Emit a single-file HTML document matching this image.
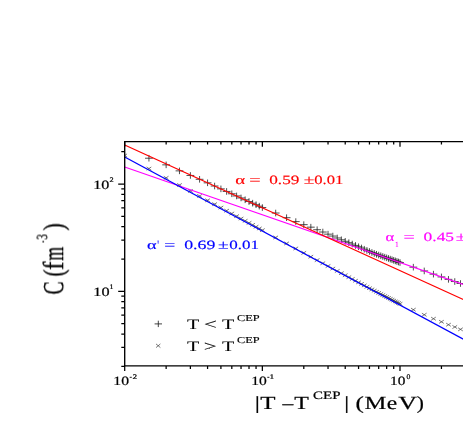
<!DOCTYPE html><html><head><meta charset="utf-8"><style>html,body{margin:0;padding:0;background:#fff;overflow:hidden}svg{display:block}</style></head><body><svg width="463" height="436" viewBox="0 0 463 436">
<rect width="463" height="436" fill="#fff"/>
<defs><clipPath id="pc"><rect x="124.7" y="141.6" width="343.3" height="224.29999999999998"/></clipPath></defs>
<g clip-path="url(#pc)" fill="none">
<path d="M145.04 158.23H152.84M148.94 154.93V161.53M162.24 164.85H170.04M166.14 161.55V168.15M175.58 170.87H183.38M179.48 167.57V174.17M186.48 175.46H194.28M190.38 172.16V178.76M195.69 179.30H203.49M199.59 176.00V182.60M203.67 182.84H211.47M207.57 179.54V186.14M210.71 186.03H218.51M214.61 182.73V189.33M217.01 188.87H224.81M220.91 185.57V192.17M222.71 191.44H230.51M226.61 188.14V194.74M227.91 193.78H235.71M231.81 190.48V197.08M232.70 195.94H240.50M236.60 192.64V199.24M237.13 197.94H244.93M241.03 194.64V201.24M241.25 199.79H249.05M245.15 196.49V203.09M245.11 201.53H252.91M249.01 198.23V204.83M248.73 203.17H256.53M252.63 199.87V206.47M252.15 204.71H259.95M256.05 201.41V208.01M255.38 206.16H263.18M259.28 202.86V209.46M258.45 207.55H266.25M262.35 204.25V210.85M271.79 213.03H279.59M275.69 209.73V216.33M282.69 217.70H290.49M286.59 214.40V221.00M291.90 221.61H299.70M295.80 218.31V224.91M299.89 224.65H307.69M303.79 221.35V227.95M306.93 227.16H314.73M310.83 223.86V230.46M313.23 229.73H321.03M317.13 226.43V233.03M318.92 232.03H326.72M322.82 228.73V235.33M324.13 234.16H331.93M328.03 230.86V237.46M328.91 236.05H336.71M332.81 232.75V239.35M333.34 237.98H341.14M337.24 234.68V241.28M337.47 239.78H345.27M341.37 236.48V243.08M341.32 241.30H349.12M345.22 238.00V244.60M344.95 242.72H352.75M348.85 239.42V246.02M348.36 244.06H356.16M352.26 240.76V247.36M351.60 245.44H359.40M355.50 242.14V248.74M354.66 246.74H362.46M358.56 243.44V250.04M357.58 247.98H365.38M361.48 244.68V251.28M360.36 249.24H368.16M364.26 245.94V252.54M363.02 250.44H370.82M366.92 247.14V253.74M365.56 251.49H373.36M369.46 248.19V254.79M368.00 252.49H375.80M371.90 249.19V255.79M370.35 253.45H378.15M374.25 250.15V256.75M372.60 254.28H380.40M376.50 250.98V257.58M374.78 255.04H382.58M378.68 251.74V258.34M376.88 255.78H384.68M380.78 252.48V259.08M378.90 256.49H386.70M382.80 253.19V259.79M380.86 257.18H388.66M384.76 253.88V260.48M382.76 257.85H390.56M386.66 254.55V261.15M384.60 258.49H392.40M388.50 255.19V261.79M386.38 259.12H394.18M390.28 255.82V262.42M388.12 259.73H395.92M392.02 256.43V263.03M389.80 260.32H397.60M393.70 257.02V263.62M391.44 260.89H399.24M395.34 257.59V264.19M393.03 261.45H400.83M396.93 258.15V264.75M394.59 262.00H402.39M398.49 258.70V265.30M396.10 262.53H403.90M400.00 259.23V265.83M409.44 267.16H417.24M413.34 263.86V270.46M420.34 270.94H428.14M424.24 267.64V274.24M429.55 274.14H437.35M433.45 270.84V277.44M437.54 276.91H445.34M441.44 273.61V280.21M444.58 279.35H452.38M448.48 276.05V282.65M450.88 281.54H458.68M454.78 278.24V284.84M456.57 283.51H464.37M460.47 280.21V286.81" stroke="#222" stroke-width="0.8"/>
<path d="M122.35 153.90L127.05 157.10M122.35 157.10L127.05 153.90M146.59 166.98L151.29 170.18M146.59 170.18L151.29 166.98M163.79 176.26L168.49 179.46M163.79 179.46L168.49 176.26M177.13 183.45L181.83 186.65M177.13 186.65L181.83 183.45M188.03 189.34L192.73 192.54M188.03 192.54L192.73 189.34M197.24 194.36L201.94 197.56M197.24 197.56L201.94 194.36M205.22 198.71L209.92 201.91M205.22 201.91L209.92 198.71M212.26 202.55L216.96 205.75M212.26 205.75L216.96 202.55M218.56 205.98L223.26 209.18M218.56 209.18L223.26 205.98M224.26 209.08L228.96 212.28M224.26 212.28L228.96 209.08M229.46 211.92L234.16 215.12M229.46 215.12L234.16 211.92M234.25 214.52L238.95 217.72M234.25 217.72L238.95 214.52M238.68 216.94L243.38 220.14M238.68 220.14L243.38 216.94M242.80 219.19L247.50 222.39M242.80 222.39L247.50 219.19M246.66 221.29L251.36 224.49M246.66 224.49L251.36 221.29M250.28 223.26L254.98 226.46M250.28 226.46L254.98 223.26M253.70 225.13L258.40 228.33M253.70 228.33L258.40 225.13M256.93 226.89L261.63 230.09M256.93 230.09L261.63 226.89M260.00 228.56L264.70 231.76M260.00 231.76L264.70 228.56M273.34 235.86L278.04 239.06M273.34 239.06L278.04 235.86M284.24 241.83L288.94 245.03M284.24 245.03L288.94 241.83M293.45 246.87L298.15 250.07M293.45 250.07L298.15 246.87M301.44 251.24L306.14 254.44M301.44 254.44L306.14 251.24M308.48 255.10L313.18 258.30M308.48 258.30L313.18 255.10M314.78 258.55L319.48 261.75M314.78 261.75L319.48 258.55M320.47 261.63L325.17 264.83M320.47 264.83L325.17 261.63M325.68 264.42L330.38 267.62M325.68 267.62L330.38 264.42M330.46 266.98L335.16 270.18M330.46 270.18L335.16 266.98M334.89 269.35L339.59 272.55M334.89 272.55L339.59 269.35M339.02 271.55L343.72 274.75M339.02 274.75L343.72 271.55M342.87 273.62L347.57 276.82M342.87 276.82L347.57 273.62M346.50 275.55L351.20 278.75M346.50 278.75L351.20 275.55M349.91 277.38L354.61 280.58M349.91 280.58L354.61 277.38M353.15 279.11L357.85 282.31M353.15 282.31L357.85 279.11M356.21 280.75L360.91 283.95M356.21 283.95L360.91 280.75M359.13 282.31L363.83 285.51M359.13 285.51L363.83 282.31M361.91 283.80L366.61 287.00M361.91 287.00L366.61 283.80M364.57 285.22L369.27 288.42M364.57 288.42L369.27 285.22M367.11 286.58L371.81 289.78M367.11 289.78L371.81 286.58M369.55 287.84L374.25 291.04M369.55 291.04L374.25 287.84M371.90 289.04L376.60 292.24M371.90 292.24L376.60 289.04M374.15 290.20L378.85 293.40M374.15 293.40L378.85 290.20M376.33 291.31L381.03 294.51M376.33 294.51L381.03 291.31M378.43 292.38L383.13 295.58M378.43 295.58L383.13 292.38M380.45 293.42L385.15 296.62M380.45 296.62L385.15 293.42M382.41 294.42L387.11 297.62M382.41 297.62L387.11 294.42M384.31 295.39L389.01 298.59M384.31 298.59L389.01 295.39M386.15 296.33L390.85 299.53M386.15 299.53L390.85 296.33M387.93 297.24L392.63 300.44M387.93 300.44L392.63 297.24M389.67 298.13L394.37 301.33M389.67 301.33L394.37 298.13M391.35 298.99L396.05 302.19M391.35 302.19L396.05 298.99M392.99 299.83L397.69 303.03M392.99 303.03L397.69 299.83M394.58 300.64L399.28 303.84M394.58 303.84L399.28 300.64M396.14 301.44L400.84 304.64M396.14 304.64L400.84 301.44M397.65 302.21L402.35 305.41M397.65 305.41L402.35 302.21M410.99 308.09L415.69 311.29M410.99 311.29L415.69 308.09M421.89 313.15L426.59 316.35M421.89 316.35L426.59 313.15M431.10 317.11L435.80 320.31M431.10 320.31L435.80 317.11M439.09 320.20L443.79 323.40M439.09 323.40L443.79 320.20M446.13 323.10L450.83 326.30M446.13 326.30L450.83 323.10M452.43 325.39L457.13 328.59M452.43 328.59L457.13 325.39M458.12 327.75L462.82 330.95M458.12 330.95L462.82 327.75" stroke="#333" stroke-width="0.65"/>
<path d="M124.7 167.00L468 286.13" stroke="#f0f" stroke-width="1.15"/>
<path d="M124.7 145.05L468 301.66" stroke="#f00" stroke-width="1.25"/>
<path d="M124.7 157.00L468 341.70" stroke="#00f" stroke-width="1.3"/>
</g>
<path d="M124.7 366.54999999999995V140.95M124.05 141.6H465M124.05 365.9H465" stroke="#000" stroke-width="1.35" fill="none"/>
<path d="M124.70 365.9v5.2M124.70 141.6v5.2M166.14 365.9v3.0M166.14 141.6v3.0M190.38 365.9v3.0M190.38 141.6v3.0M207.57 365.9v3.0M207.57 141.6v3.0M220.91 365.9v3.0M220.91 141.6v3.0M231.81 365.9v3.0M231.81 141.6v3.0M241.03 365.9v3.0M241.03 141.6v3.0M249.01 365.9v3.0M249.01 141.6v3.0M256.05 365.9v3.0M256.05 141.6v3.0M262.35 365.9v5.2M262.35 141.6v5.2M303.79 365.9v3.0M303.79 141.6v3.0M328.03 365.9v3.0M328.03 141.6v3.0M345.22 365.9v3.0M345.22 141.6v3.0M358.56 365.9v3.0M358.56 141.6v3.0M369.46 365.9v3.0M369.46 141.6v3.0M378.68 365.9v3.0M378.68 141.6v3.0M386.66 365.9v3.0M386.66 141.6v3.0M393.70 365.9v3.0M393.70 141.6v3.0M400.00 365.9v5.2M400.00 141.6v5.2M441.44 365.9v3.0M441.44 141.6v3.0M124.7 366.30h-3.4M124.7 347.40h-3.4M124.7 334.00h-3.4M124.7 323.60h-3.4M124.7 315.10h-3.4M124.7 307.92h-3.4M124.7 301.70h-3.4M124.7 296.21h-3.4M124.7 291.30h-6.5M124.7 259.00h-3.4M124.7 240.10h-3.4M124.7 226.70h-3.4M124.7 216.30h-3.4M124.7 207.80h-3.4M124.7 200.62h-3.4M124.7 194.40h-3.4M124.7 188.91h-3.4M124.7 184.00h-6.5M124.7 151.70h-3.4" stroke="#000" stroke-width="1.25" fill="none"/>
<g font-family="Liberation Serif, serif" style="opacity:0.999" text-rendering="geometricPrecision">
<text transform="translate(93.29,188.60) scale(1.269,1)" font-size="12.7" fill="#000" stroke="#000" stroke-width="0.22">10</text>
<text transform="translate(109.43,182.20) scale(1.179,1)" font-size="7.0" fill="#000" stroke="#000" stroke-width="0.22">2</text>
<text transform="translate(93.28,295.70) scale(1.278,1)" font-size="12.7" fill="#000" stroke="#000" stroke-width="0.22">10</text>
<text transform="translate(109.50,289.30) scale(1.135,1)" font-size="7.0" fill="#000" stroke="#000" stroke-width="0.22">1</text>
<text transform="translate(113.33,385.30) scale(1.233,1)" font-size="12.7" fill="#000" stroke="#000" stroke-width="0.22">10</text>
<path d="M129.7 377.3H131.8M267.3 377.3H269.4" stroke="#000" stroke-width="0.9"/>
<text transform="translate(132.58,379.20) scale(1.321,1)" font-size="7.0" fill="#000" stroke="#000" stroke-width="0.22">2</text>
<text transform="translate(251.14,385.20) scale(1.224,1)" font-size="12.7" fill="#000" stroke="#000" stroke-width="0.22">10</text>
<text transform="translate(269.48,379.20) scale(1.337,1)" font-size="7.0" fill="#000" stroke="#000" stroke-width="0.22">1</text>
<text transform="translate(390.06,385.20) scale(1.206,1)" font-size="12.7" fill="#000" stroke="#000" stroke-width="0.22">10</text>
<text transform="translate(406.41,379.20) scale(1.109,1)" font-size="7.0" fill="#000" stroke="#000" stroke-width="0.22">0</text>
<path d="M154.6 323.9H162.0M158.3 320.7V327.1" stroke="#222" stroke-width="0.85" fill="none"/>
<path d="M156.0 343.9L160.4 347.6M156.0 347.6L160.4 343.9" stroke="#333" stroke-width="0.65" fill="none"/>
<text transform="translate(187.05,329.00) scale(1.376,1)" font-size="14.6" fill="#000" stroke="#000" stroke-width="0.1">T</text>
<text transform="translate(203.84,329.00) scale(1.591,1)" font-size="14.6" fill="#000" stroke="#000" stroke-width="0.1">&lt;</text>
<text transform="translate(222.05,329.00) scale(1.376,1)" font-size="14.6" fill="#000" stroke="#000" stroke-width="0.1">T</text>
<text transform="translate(236.91,321.20) scale(1.369,1)" font-size="9.0" fill="#000" stroke="#000" stroke-width="0.15">CEP</text>
<text transform="translate(187.05,350.90) scale(1.376,1)" font-size="14.6" fill="#000" stroke="#000" stroke-width="0.1">T</text>
<text transform="translate(203.84,350.90) scale(1.591,1)" font-size="14.6" fill="#000" stroke="#000" stroke-width="0.1">&gt;</text>
<text transform="translate(222.05,350.90) scale(1.376,1)" font-size="14.6" fill="#000" stroke="#000" stroke-width="0.1">T</text>
<text transform="translate(236.91,343.10) scale(1.369,1)" font-size="9.0" fill="#000" stroke="#000" stroke-width="0.15">CEP</text>
<text transform="translate(235.19,184.20) scale(1.490,1)" font-size="12.7" fill="#f00" stroke="#f00" stroke-width="0.15">α</text>
<text transform="translate(249.19,184.20) scale(1.592,1)" font-size="12.7" fill="#f00" stroke="#f00" stroke-width="0.15">=</text>
<text transform="translate(269.25,184.20) scale(1.356,1)" font-size="12.7" fill="#f00" stroke="#f00" stroke-width="0.15">0.59</text>
<text transform="translate(303.68,184.20) scale(1.524,1)" font-size="12.7" fill="#f00" stroke="#f00" stroke-width="0.15">±</text>
<text transform="translate(314.18,184.20) scale(1.310,1)" font-size="12.7" fill="#f00" stroke="#f00" stroke-width="0.15">0.01</text>
<text transform="translate(147.11,248.90) scale(1.439,1)" font-size="12.7" fill="#00f" stroke="#00f" stroke-width="0.15">α</text>
<text transform="translate(157.20,248.90) scale(0.746,1)" font-size="12.7" fill="#00f" stroke="#00f" stroke-width="0.15">'</text>
<text transform="translate(164.32,248.90) scale(1.541,1)" font-size="12.7" fill="#00f" stroke="#00f" stroke-width="0.15">=</text>
<text transform="translate(184.13,248.90) scale(1.403,1)" font-size="12.7" fill="#00f" stroke="#00f" stroke-width="0.15">0.69</text>
<text transform="translate(217.88,248.90) scale(1.524,1)" font-size="12.7" fill="#00f" stroke="#00f" stroke-width="0.15">±</text>
<text transform="translate(229.26,248.90) scale(1.339,1)" font-size="12.7" fill="#00f" stroke="#00f" stroke-width="0.15">0.01</text>
<text transform="translate(385.57,241.20) scale(1.321,1)" font-size="12.7" fill="#f0f" stroke="#f0f" stroke-width="0.15">α</text>
<text transform="translate(395.13,246.60) scale(0.816,1)" font-size="8.0" fill="#f0f" stroke="#f0f" stroke-width="0.15">1</text>
<text transform="translate(403.50,241.20) scale(1.575,1)" font-size="12.7" fill="#f0f" stroke="#f0f" stroke-width="0.15">=</text>
<text transform="translate(423.55,241.20) scale(1.375,1)" font-size="12.7" fill="#f0f" stroke="#f0f" stroke-width="0.15">0.45</text>
<text transform="translate(455.68,241.20) scale(1.524,1)" font-size="12.7" fill="#f0f" stroke="#f0f" stroke-width="0.15">±</text>
<text transform="translate(466.19,241.20) scale(1.282,1)" font-size="12.7" fill="#f0f" stroke="#f0f" stroke-width="0.15">0.01</text>
<text transform="translate(254.85,409.00) scale(1.405,1)" font-size="18.5" fill="#000" stroke="#000" stroke-width="0.22">|</text>
<text transform="translate(260.16,409.00) scale(1.348,1)" font-size="18.5" fill="#000" stroke="#000" stroke-width="0.22">T</text>
<text transform="translate(282.46,409.00) scale(1.165,1)" font-size="18.5" fill="#000" stroke="#000" stroke-width="0.22">–</text>
<text transform="translate(294.28,409.00) scale(1.292,1)" font-size="18.5" fill="#000" stroke="#000" stroke-width="0.22">T</text>
<text transform="translate(313.10,399.20) scale(1.318,1)" font-size="11.3" fill="#000" stroke="#000" stroke-width="0.22">CEP</text>
<text transform="translate(344.20,409.00) scale(1.297,1)" font-size="18.5" fill="#000" stroke="#000" stroke-width="0.22">|</text>
<text transform="translate(355.47,409.00) scale(1.357,1)" font-size="18.5" fill="#000" stroke="#000" stroke-width="0.22">(</text>
<text transform="translate(364.56,409.00) scale(1.329,1)" font-size="18.5" fill="#000" stroke="#000" stroke-width="0.22">M</text>
<text transform="translate(386.86,409.00) scale(1.271,1)" font-size="18.5" fill="#000" stroke="#000" stroke-width="0.22">e</text>
<text transform="translate(398.14,409.00) scale(1.405,1)" font-size="18.5" fill="#000" stroke="#000" stroke-width="0.22">V</text>
<text transform="translate(416.81,409.00) scale(1.155,1)" font-size="18.5" fill="#000" stroke="#000" stroke-width="0.22">)</text>
<g transform="translate(63.0,294.5) scale(1.33,1) rotate(-90)">
<text transform="translate(0.11,0.00) scale(0.905,1)" font-size="21.8" fill="#000" stroke="#000" stroke-width="0.22">C</text>
<text transform="translate(18.05,0.00) scale(0.971,1)" font-size="21.8" fill="#000" stroke="#000" stroke-width="0.22">(</text>
<text transform="translate(24.54,0.00) scale(1.168,1)" font-size="21.8" fill="#000" stroke="#000" stroke-width="0.22">f</text>
<text transform="translate(33.84,0.00) scale(0.815,1)" font-size="21.8" fill="#000" stroke="#000" stroke-width="0.22">m</text>
<text transform="translate(51.93,-12.30) scale(0.393,1)" font-size="11.75" fill="#000" stroke="#000" stroke-width="0.22">-</text>
<text transform="translate(54.99,-11.90) scale(0.908,1)" font-size="11.75" fill="#000" stroke="#000" stroke-width="0.22">3</text>
<text transform="translate(63.89,0.00) scale(0.998,1)" font-size="21.8" fill="#000" stroke="#000" stroke-width="0.22">)</text>
</g>
</g>
</svg></body></html>
